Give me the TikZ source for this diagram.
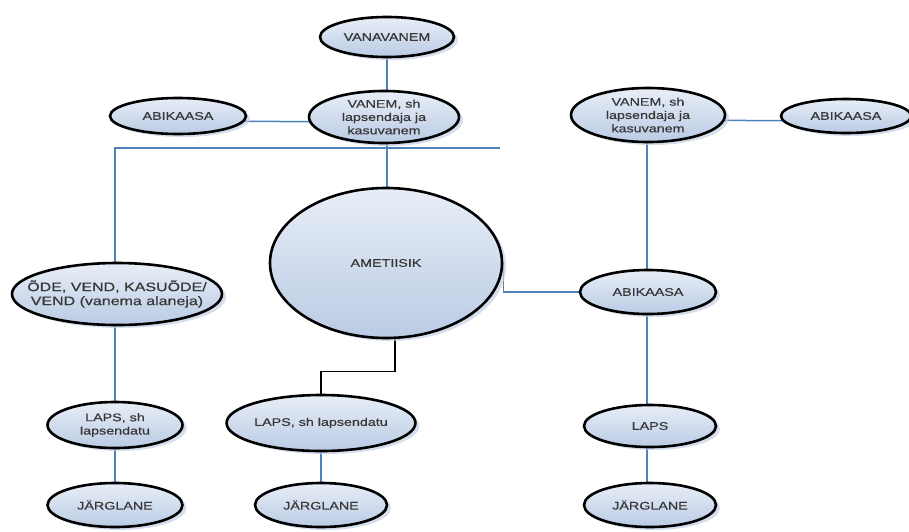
\documentclass[tikz,border=0pt]{standalone}
\usepackage{fontspec}
\setmainfont[FakeStretch=1.3,FakeBold=0.5]{Liberation Sans}
\usetikzlibrary{shapes.geometric,shadows,backgrounds}
\definecolor{conblue}{RGB}{79,129,189}
\definecolor{filltop}{RGB}{232,238,247}
\definecolor{fillbot}{RGB}{186,203,228}
\definecolor{shadowc}{RGB}{196,208,230}
\definecolor{txt}{RGB}{55,55,55}
\tikzset{
  oval/.style={ellipse, draw=black, line width=2.6pt, inner sep=0pt,
    top color=filltop, bottom color=fillbot, text=txt, align=center,
    font=\fontsize{11}{13.3}\selectfont,
    drop shadow={shadow xshift=4pt, shadow yshift=-3pt, fill=shadowc, opacity=0.7}},
  con/.style={draw=conblue, line width=1.5pt},
  blackcon/.style={draw=black, line width=1.5pt}
}
\begin{document}
\begin{tikzpicture}[x=1pt,y=-1pt]
\useasboundingbox (0,0) rectangle (909,531);
% nodes
\node[oval, minimum width=134, minimum height=40] (vana) at (387,37) {VANAVANEM};
\node[oval, minimum width=150, minimum height=52, inner ysep=-6pt] (vanemL) at (384,117) {VANEM, sh\\lapsendaja ja\\kasuvanem};
\node[oval, minimum width=136, minimum height=36] (abiL) at (178,116) {ABIKAASA};
\node[oval, minimum width=232, minimum height=150] (amet) at (386,263) {AMETIISIK};
\node[oval, minimum width=210, minimum height=62, inner xsep=-32pt, inner ysep=-4pt, font=\fontsize{12.3}{14}\selectfont] (ode) at (117,294) {ÕDE, VEND, KASUÕDE/\\VEND (vanema alaneja)};
\node[oval, minimum width=135, minimum height=46, inner ysep=-3pt] (lapsL) at (115,425) {LAPS, sh\\lapsendatu};
\node[oval, minimum width=135, minimum height=44] (jargL) at (115,505) {JÄRGLANE};
\node[oval, minimum width=156, minimum height=56] (lapsM) at (321,423) {LAPS, sh lapsendatu};
\node[oval, minimum width=132, minimum height=44] (jargM) at (321,505) {JÄRGLANE};
\node[oval, minimum width=154, minimum height=54, inner ysep=-6pt] (vanemR) at (648,115) {VANEM, sh\\lapsendaja ja\\kasuvanem};
\node[oval, minimum width=130, minimum height=34] (abiR) at (846,116) {ABIKAASA};
\node[oval, minimum width=136, minimum height=44] (abiM) at (648,292) {ABIKAASA};
\node[oval, minimum width=132, minimum height=42] (lapsR) at (650,426) {LAPS};
\node[oval, minimum width=132, minimum height=44] (jargR) at (650,505) {JÄRGLANE};
\coordinate (busL) at (115,148);
\coordinate (busR) at (500,148);
% connectors
\begin{pgfonlayer}{background}
\draw[con] (vana) -- (vana |- amet);
\draw[con] ([yshift=-5pt]abiL.center) -- ([yshift=-5pt]vanemL.center);
\draw[con] (busR) -- (busL) -- (busL |- ode);
\draw[con] (busL |- ode) -- (busL |- lapsL);
\draw[con] (busL |- lapsL) -- (busL |- jargL);
\draw[con] (amet.east) -- (amet.east |- abiM) -- (abiM);
\draw[con] ([yshift=-5pt]vanemR.center) -- ([yshift=-5pt]abiR.center);
\draw[con] ([xshift=-1pt]vanemR.center) -- ([xshift=-1pt]vanemR.center |- abiM);
\draw[con] ([xshift=-1pt]abiM.center) -- ([xshift=-1pt]abiM.center |- lapsR);
\draw[con] ([xshift=-3pt]lapsR.center) -- ([xshift=-3pt]lapsR.center |- jargR);
\draw[blackcon] ([xshift=9pt]amet.south) -- ++(0,32) -| (lapsM);
\draw[con] (lapsM) -- (jargM);
\end{pgfonlayer}
\end{tikzpicture}
\end{document}
